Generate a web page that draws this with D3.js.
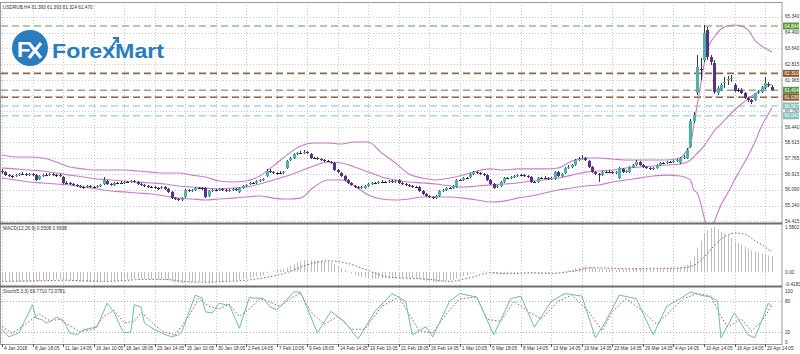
<!DOCTYPE html>
<html>
<head>
<meta charset="utf-8">
<script src="https://cdn.jsdelivr.net/npm/d3@7/dist/d3.min.js"></script>
<style>
  body { margin: 0; background: #fff; }
  svg { display: block; }
  text { font-family: "Liberation Sans", Arial, sans-serif; }
</style>
</head>
<body>
<div id="chart"></div>
<script>
// USDRUB H4 candles, [open, high, low, close]
var ohlc = [
  [57.09,57.20,56.93,57.03],[57.03,57.09,56.82,56.87],[56.87,56.93,56.77,56.82],[56.82,56.87,56.71,56.82],
  [56.82,56.93,56.77,56.87],[56.87,56.98,56.82,56.93],[56.93,57.03,56.87,56.93],[56.93,56.98,56.82,56.87],
  [56.87,56.98,56.82,56.93],[56.93,56.98,56.82,56.87],[56.87,56.93,56.55,56.61],[56.66,56.87,56.61,56.82],
  [56.82,56.93,56.77,56.87],[56.87,56.98,56.82,56.87],[56.87,56.98,56.82,56.93],[56.93,56.98,56.82,56.87],
  [56.87,56.93,56.77,56.87],[56.87,56.93,56.77,56.82],[56.77,56.82,56.39,56.45],[56.45,56.55,56.39,56.45],
  [56.45,56.50,56.34,56.39],[56.39,56.45,56.29,56.34],[56.34,56.39,56.23,56.29],[56.29,56.34,56.18,56.23],
  [56.23,56.29,56.13,56.23],[56.23,56.34,56.18,56.29],[56.29,56.34,56.18,56.23],[56.23,56.29,56.18,56.23],
  [56.23,56.34,56.18,56.29],[56.29,56.39,56.23,56.34],[56.39,56.77,56.34,56.61],[56.55,56.61,56.34,56.39],
  [56.39,56.45,56.29,56.34],[56.34,56.50,56.29,56.45],[56.45,56.50,56.39,56.45],[56.45,56.55,56.39,56.45],
  [56.45,56.55,56.39,56.50],[56.50,56.55,56.45,56.50],[56.50,56.61,56.45,56.55],[56.55,56.61,56.45,56.50],
  [56.50,56.55,56.34,56.39],[56.39,56.45,56.29,56.34],[56.34,56.39,56.23,56.29],[56.29,56.34,56.18,56.23],
  [56.23,56.29,56.18,56.23],[56.23,56.29,56.13,56.18],[56.18,56.23,56.07,56.18],[56.18,56.29,56.13,56.23],
  [56.23,56.29,56.07,56.13],[56.13,56.18,55.91,55.97],[55.97,56.02,55.59,55.64],[55.64,55.70,55.54,55.59],
  [55.59,55.64,55.48,55.54],[55.54,55.70,55.48,55.64],[55.70,56.13,55.64,56.07],[56.07,56.13,55.97,56.02],
  [56.02,56.13,55.97,56.07],[56.07,56.23,56.02,56.18],[56.18,56.23,56.13,56.18],[56.18,56.23,56.07,56.13],
  [56.18,56.23,55.64,55.70],[55.75,56.07,55.70,56.02],[56.02,56.13,55.97,56.07],[56.07,56.13,56.02,56.07],
  [56.07,56.18,56.02,56.13],[56.13,56.18,56.02,56.07],[56.07,56.13,55.97,56.02],[56.02,56.13,55.97,56.07],
  [56.07,56.18,56.02,56.13],[56.13,56.18,56.02,56.07],[55.97,56.23,55.91,56.18],[56.18,56.34,56.13,56.29],
  [56.29,56.39,56.23,56.34],[56.39,56.50,56.34,56.45],[56.45,56.50,56.39,56.45],[56.45,56.61,56.39,56.55],
  [56.55,56.66,56.50,56.61],[56.61,56.71,56.55,56.66],[56.82,57.20,56.77,57.09],[57.09,57.20,56.98,57.03],
  [57.03,57.09,56.93,56.98],[56.98,57.03,56.87,56.98],[56.98,57.09,56.93,56.98],[56.98,57.09,56.93,57.03],
  [57.25,57.68,57.20,57.62],[57.68,57.84,57.62,57.78],[57.78,58.05,57.73,58.00],[58.00,58.10,57.94,58.05],
  [58.05,58.16,58.00,58.05],[58.05,58.21,58.00,58.10],[58.10,58.16,58.00,58.05],[58.00,58.05,57.73,57.78],
  [57.78,57.84,57.73,57.78],[57.78,57.84,57.68,57.73],[57.73,57.78,57.62,57.68],[57.68,57.73,57.57,57.62],
  [57.62,57.68,57.57,57.62],[57.57,57.62,57.46,57.52],[57.52,57.57,57.09,57.14],[57.14,57.20,56.98,57.03],
  [56.98,57.03,56.77,56.82],[56.82,56.87,56.55,56.61],[56.61,56.66,56.39,56.45],[56.45,56.50,56.29,56.34],
  [56.29,56.34,56.18,56.23],[56.23,56.29,56.13,56.18],[56.18,56.29,56.13,56.23],[56.18,56.34,56.13,56.29],
  [56.29,56.45,56.23,56.39],[56.39,56.50,56.34,56.45],[56.45,56.50,56.39,56.45],[56.45,56.55,56.39,56.50],
  [56.50,56.61,56.45,56.50],[56.50,56.55,56.45,56.50],[56.50,56.61,56.45,56.55],[56.55,56.61,56.45,56.50],
  [56.50,56.61,56.45,56.55],[56.61,56.66,56.39,56.45],[56.45,56.50,56.34,56.39],[56.39,56.45,56.29,56.34],
  [56.34,56.39,56.23,56.29],[56.29,56.34,56.18,56.23],[56.23,56.29,56.18,56.23],[56.23,56.29,55.97,56.02],
  [56.02,56.07,55.80,55.86],[55.86,55.91,55.70,55.75],[55.75,55.80,55.64,55.70],[55.70,55.75,55.59,55.64],
  [55.64,55.80,55.59,55.75],[55.75,56.07,55.70,56.02],[56.02,56.13,55.97,56.07],[56.07,56.23,56.02,56.18],
  [56.18,56.23,56.13,56.18],[56.18,56.34,56.13,56.29],[56.23,56.66,56.18,56.61],[56.61,56.66,56.55,56.61],
  [56.61,56.77,56.55,56.71],[56.71,56.77,56.66,56.71],[56.77,56.98,56.71,56.93],[56.93,57.09,56.87,57.03],
  [57.03,57.09,56.93,56.98],[56.98,57.03,56.87,56.93],[56.93,56.98,56.82,56.87],[56.87,56.93,56.55,56.61],
  [56.61,56.66,56.34,56.39],[56.39,56.45,56.13,56.18],[56.23,56.34,56.18,56.29],[56.29,56.55,56.23,56.50],
  [56.50,56.77,56.45,56.71],[56.71,56.77,56.66,56.71],[56.71,56.82,56.66,56.77],[56.77,56.87,56.71,56.82],
  [56.82,56.93,56.77,56.87],[56.87,56.93,56.82,56.87],[56.87,56.93,56.77,56.82],[56.82,56.87,56.71,56.77],
  [56.77,56.82,56.45,56.50],[56.50,56.55,56.45,56.50],[56.50,56.77,56.45,56.71],[56.71,56.77,56.66,56.71],
  [56.71,56.82,56.66,56.71],[56.71,56.77,56.61,56.66],[56.66,56.77,56.61,56.71],[56.66,57.09,56.61,57.03],
  [57.03,57.09,56.77,56.82],[56.82,56.98,56.77,56.93],[56.98,57.30,56.93,57.25],[57.25,57.41,57.20,57.30],
  [57.30,57.46,57.25,57.41],[57.41,57.73,57.36,57.68],[57.68,57.84,57.62,57.73],[57.73,57.94,57.68,57.78],
  [57.78,57.84,57.62,57.68],[57.62,57.68,57.25,57.30],[57.30,57.36,56.98,57.03],[57.03,57.09,56.87,56.93],
  [56.93,56.98,56.50,56.87],[56.87,57.09,56.82,57.03],[57.03,57.09,56.98,57.03],[57.03,57.14,56.98,57.03],
  [57.03,57.09,56.93,56.98],[56.98,57.09,56.93,57.03],[56.71,57.30,56.66,57.25],[57.20,57.25,56.98,57.03],
  [57.03,57.14,56.98,57.09],[57.03,57.36,56.98,57.30],[57.30,57.46,57.25,57.41],[57.41,57.68,57.36,57.57],
  [57.57,57.62,57.36,57.41],[57.41,57.46,57.25,57.30],[57.30,57.36,57.20,57.25],[57.25,57.30,57.14,57.20],
  [57.20,57.30,57.14,57.25],[57.25,57.46,57.20,57.41],[57.41,57.57,57.36,57.52],[57.52,57.57,57.46,57.52],
  [57.52,57.62,57.46,57.57],[57.57,57.62,57.52,57.57],[57.57,57.68,57.52,57.62],[57.62,57.73,57.57,57.68],
  [57.52,57.84,57.46,57.78],[57.78,57.94,57.73,57.84],[57.78,58.32,57.73,58.21],[58.38,59.87,58.32,59.76],
  [59.76,60.24,59.66,60.08],[61.26,63.29,61.15,62.65],[62.54,63.13,61.95,62.54],[63.02,64.90,62.92,64.47],
  [64.63,64.79,63.02,63.18],[63.18,63.29,62.76,62.92],[62.86,63.02,61.21,61.31],[61.26,61.63,61.15,61.53],
  [61.42,61.79,61.37,61.69],[61.79,62.12,61.53,61.85],[61.95,62.17,61.69,62.01],[62.01,62.22,61.85,62.06],
  [61.69,61.79,61.31,61.37],[61.42,61.53,61.31,61.42],[61.42,61.53,61.21,61.26],[61.26,61.31,60.94,60.99],
  [60.99,61.05,60.78,60.89],[60.89,60.94,60.67,60.78],[60.89,61.26,60.83,61.26],[61.26,61.42,61.21,61.31],
  [61.31,61.63,61.26,61.58],[61.53,62.12,61.47,61.79],[61.74,61.85,61.58,61.69],[61.58,61.69,61.37,61.42]
];

// Bollinger bands read at sample bars
var bandIdx   = [0,4,8,12,16,20,24,28,32,36,40,44,48,52,56,60,64,68,72,76,80,84,88,92,96,100,104,108,112,116,120,124,128,132,136,140,144,148,152,156,160,164,168,172,176,180,184,188,192,196,200,202,203,204,205,206,207,208,209,210,212,214,216,218,220,222,224,226,227];
var bandUpper = [57.94,57.84,57.84,57.78,57.57,57.30,57.20,57.14,57.14,57.14,57.09,57.03,56.98,56.98,56.87,56.77,56.55,56.50,56.55,56.82,57.36,57.94,58.42,58.59,58.59,58.53,58.64,58.64,58.05,57.52,56.93,56.71,56.61,56.71,56.87,57.09,57.20,57.14,57.20,57.20,57.20,57.25,57.62,57.78,57.78,57.73,57.68,57.68,57.68,57.68,57.78,58.21,58.48,59.55,60.62,61.69,62.76,63.56,63.99,64.25,64.68,64.84,64.90,64.84,64.63,64.09,63.77,63.56,63.45];
var bandMid   = [57.25,57.20,57.14,57.09,56.98,56.87,56.77,56.66,56.61,56.55,56.50,56.45,56.39,56.29,56.23,56.18,56.13,56.18,56.23,56.39,56.61,56.82,57.09,57.36,57.57,57.52,57.30,57.03,56.77,56.61,56.50,56.45,56.39,56.29,56.23,56.29,56.34,56.39,56.45,56.55,56.61,56.71,56.87,57.03,57.09,57.14,57.25,57.30,57.36,57.41,57.46,57.57,57.68,57.84,58.05,58.21,58.42,58.69,58.96,59.23,59.60,59.98,60.35,60.67,60.94,61.21,61.42,61.63,61.74];
var bandLower = [56.71,56.61,56.50,56.45,56.39,56.34,56.23,56.13,56.02,55.97,55.91,55.86,55.75,55.64,55.59,55.54,55.59,55.64,55.70,55.75,55.64,55.59,55.64,56.23,56.61,56.61,56.29,55.80,55.59,55.54,55.59,55.70,55.70,55.70,55.64,55.54,55.43,55.48,55.64,55.75,55.91,56.07,56.18,56.29,56.34,56.50,56.61,56.71,56.82,56.87,56.82,56.71,56.61,56.07,55.91,55.38,54.63,54.04,53.93,54.36,55.27,55.91,56.61,57.25,57.89,58.64,59.49,60.14,60.46];

// price levels on the right
var levelValues = [64.844, 62.310, 61.404, 61.036, 60.567, 60.042];
var priceTicks = [65.340, 64.490, 63.640, 62.815, 61.965, 61.115, 60.290, 59.440, 58.615, 57.765, 56.915, 56.090, 55.240, 54.415];
var priceTickLabels = ["65.340","64.490","63.640","62.815","61.965","","60.290","59.440","58.615","57.765","56.915","56.090","55.240","54.415"];

// MACD(12,26,9) main per bar
var macdMain = [
  -0.30,-0.31,-0.32,-0.33,-0.33,-0.33,-0.33,-0.32,-0.32,-0.31,
  -0.32,-0.32,-0.31,-0.30,-0.29,-0.28,-0.27,-0.26,-0.28,-0.29,
  -0.30,-0.31,-0.32,-0.33,-0.34,-0.34,-0.34,-0.34,-0.33,-0.33,
  -0.31,-0.31,-0.31,-0.30,-0.29,-0.28,-0.27,-0.26,-0.25,-0.24,
  -0.24,-0.24,-0.25,-0.25,-0.26,-0.26,-0.27,-0.27,-0.27,-0.29,
  -0.33,-0.36,-0.39,-0.40,-0.38,-0.37,-0.36,-0.35,-0.33,-0.32,
  -0.35,-0.35,-0.34,-0.34,-0.33,-0.32,-0.31,-0.30,-0.29,-0.28,
  -0.26,-0.24,-0.22,-0.20,-0.18,-0.16,-0.14,-0.12,-0.05,0.01,
  0.04,0.07,0.09,0.10,0.16,0.22,0.29,0.34,0.38,0.41,
  0.43,0.42,0.41,0.40,0.39,0.37,0.36,0.34,0.28,0.22,
  0.15,0.08,0.01,-0.05,-0.10,-0.15,-0.18,-0.20,-0.22,-0.23,
  -0.23,-0.23,-0.23,-0.22,-0.22,-0.21,-0.21,-0.21,-0.21,-0.21,
  -0.22,-0.22,-0.22,-0.25,-0.28,-0.31,-0.34,-0.36,-0.37,-0.35,
  -0.33,-0.31,-0.29,-0.27,-0.22,-0.18,-0.14,-0.11,-0.07,-0.03,
  -0.01,0.01,0.02,0.01,-0.02,-0.06,-0.08,-0.08,-0.07,-0.06,
  -0.05,-0.04,-0.03,-0.02,-0.02,-0.02,-0.04,-0.05,-0.05,-0.05,
  -0.05,-0.05,-0.05,-0.02,-0.02,-0.01,0.03,0.06,0.09,0.13,
  0.16,0.19,0.20,0.19,0.16,0.14,0.12,0.11,0.10,0.10,
  0.09,0.08,0.10,0.10,0.10,0.12,0.13,0.15,0.15,0.14,
  0.13,0.12,0.11,0.11,0.12,0.13,0.13,0.14,0.15,0.16,
  0.18,0.20,0.25,0.40,0.55,0.85,1.10,1.35,1.48,1.55,
  1.58,1.50,1.42,1.35,1.28,1.20,1.10,1.02,0.95,0.88,
  0.82,0.76,0.72,0.68,0.65,0.62,0.58,0.55
];
var macdSigIdx = [0,6,12,18,24,30,36,42,48,54,60,66,72,78,84,90,96,102,108,114,120,126,132,138,144,150,156,162,168,174,180,186,192,198,202,205,208,211,214,216,219,222,225,227];
var macdSignal = [-0.33,-0.32,-0.31,-0.29,-0.31,-0.33,-0.30,-0.26,-0.26,-0.34,-0.36,-0.33,-0.29,-0.19,-0.02,0.25,0.39,0.30,0.05,-0.18,-0.22,-0.26,-0.33,-0.20,-0.03,-0.06,-0.03,-0.05,0.02,0.15,0.13,0.11,0.13,0.13,0.17,0.30,0.65,1.05,1.30,1.37,1.33,1.10,0.88,0.70];
var macdTicks = [1.5802, 0, -0.4183];
var macdTickLabels = ["1.5802", "0.00", "-0.4183"];

// Stochastic(5,3,3)
var stochIdx  = [0,2,5,9,10,12,13,15,16,18,20,22,24,26,28,31,33,35,36,38,39,41,42,45,47,50,52,53,57,59,60,62,64,66,67,70,73,74,77,79,81,83,86,88,93,97,101,105,110,115,119,121,125,127,132,135,140,145,150,153,157,162,166,171,175,178,182,187,192,196,200,203,206,209,211,212,216,220,222,226,227];
var stochMain = [24,10,18,73,47,43,37,43,49,43,18,14,24,27,29,76,59,29,18,20,73,69,37,24,18,10,14,20,92,86,59,57,76,73,73,27,88,86,86,69,63,76,98,98,18,60,40,6,60,95,80,14,30,10,80,95,88,14,85,90,29,80,95,90,8,40,92,85,14,70,85,98,92,88,80,8,57,14,8,76,70];
var stochSigIdx = [0,3,7,11,14,17,20,23,27,30,33,36,39,41,44,47,51,55,58,61,64,67,70,73,76,79,82,85,88,91,95,99,103,107,112,117,120,123,127,131,135,140,143,147,151,155,159,164,168,173,177,180,184,189,193,197,201,205,209,212,214,218,221,224,227];
var stochSignal = [30,17,35,55,42,44,32,20,25,50,62,38,40,58,40,22,13,50,85,70,65,74,50,65,85,78,70,85,96,60,35,50,25,25,70,88,55,22,18,55,85,88,45,40,80,60,45,80,92,60,22,60,85,60,35,60,85,95,90,50,30,45,22,40,72];
var stochTicks = [100, 80, 20, 0];

// time axis labels, one every 9 bars
var timeLabels = ["4 Jan 2018","8 Jan 18:05","11 Jan 14:05","16 Jan 10:05","18 Jan 18:05","23 Jan 14:05","26 Jan 10:05",
  "30 Jan 18:05","2 Feb 14:05","7 Feb 10:05","9 Feb 18:05","14 Feb 14:05","19 Feb 10:05","21 Feb 18:05","26 Feb 14:05",
  "1 Mar 10:05","5 Mar 18:05","8 Mar 14:05","13 Mar 14:05","19 Mar 14:05","23 Mar 14:05","29 Mar 14:05","4 Apr 14:05",
  "10 Apr 14:05","16 Apr 14:05","20 Apr 14:05"];

// layout
var svgWidth = 800, svgHeight = 354;
var plotRight = 782;
var mainTop = 2, mainBottom = 223;
var macdTop = 224, macdBottom = 286;
var stochTop = 287, stochBottom = 344;

var svg = d3.select("#chart").append("svg")
  .attr("width", svgWidth)
  .attr("height", svgHeight);

var x = d3.scaleLinear().domain([0, 230]).range([2, 782]);
var yPrice = d3.scaleLinear().domain([54.415, 65.340]).range([221, 16.7]);
var yMacd = d3.scaleLinear().domain([-0.4183, 1.5802]).range([283.9, 227]);
var yStoch = d3.scaleLinear().domain([0, 100]).range([342, 291]);

var gridColor = "#c6c6c6";
var small = "4.7px";

// clip paths
var defs = svg.append("defs");
[["clipMain", mainTop, mainBottom], ["clipMacd", macdTop, macdBottom], ["clipStoch", stochTop, stochBottom]].forEach(function(c) {
  defs.append("clipPath").attr("id", c[0])
    .append("rect").attr("x", 1).attr("y", c[1]).attr("width", plotRight - 1).attr("height", c[2] - c[1]);
});

// vertical grid
svg.append("g").selectAll("line")
  .data(timeLabels)
  .enter().append("line")
  .attr("x1", (d, i) => Math.round(x(i * 9)) + 0.5)
  .attr("x2", (d, i) => Math.round(x(i * 9)) + 0.5)
  .attr("y1", mainTop).attr("y2", stochBottom)
  .attr("stroke", gridColor).attr("stroke-dasharray", "1,2");

// horizontal grid in main panel
svg.append("g").selectAll("line")
  .data(priceTicks)
  .enter().append("line")
  .attr("x1", 1).attr("x2", plotRight)
  .attr("y1", d => Math.round(yPrice(d)) + 0.5)
  .attr("y2", d => Math.round(yPrice(d)) + 0.5)
  .attr("stroke", gridColor).attr("stroke-dasharray", "1,2");

// stoch levels 80/20
svg.append("g").selectAll("line")
  .data([80, 20])
  .enter().append("line")
  .attr("x1", 1).attr("x2", plotRight)
  .attr("y1", d => Math.round(yStoch(d)) + 0.5)
  .attr("y2", d => Math.round(yStoch(d)) + 0.5)
  .attr("stroke", "#b0b0b0").attr("stroke-dasharray", "1,2");

// logo
var logo = svg.append("g");
logo.append("circle").attr("cx", 30).attr("cy", 48).attr("r", 18).attr("fill", "#2b7cbf");
logo.append("text").attr("x", 17).attr("y", 57).attr("fill", "#fff")
  .style("font-size", "22px").style("font-weight", "bold").text("F");
logo.append("path").attr("d", "M29,43 L41,58 M41,43 L29,58").attr("stroke", "#fff").attr("stroke-width", 3.2).attr("fill", "none");
logo.append("text").attr("x", 52).attr("y", 58).attr("fill", "#2b7cbf")
  .attr("textLength", 112).attr("lengthAdjust", "spacingAndGlyphs")
  .style("font-size", "21px").style("font-weight", "bold").text("ForexMart");
logo.append("path").attr("d", "M108,52 L118,38 M113,38 L118,38 L118,43")
  .attr("stroke", "#2b7cbf").attr("stroke-width", 2).attr("fill", "none");

// level lines
var levelStroke = ["#8fbf8f", "#8a6a48", "#93a593", "#8a6a48", "#a9d6cd", "#a9d6cd"];
var levelFill = ["#5e9a3a", "#8a5a2c", "#5a9346", "#8a5a2c", "#86c3b8", "#86c3b8"];
svg.append("g").selectAll("line")
  .data(levelValues)
  .enter().append("line")
  .attr("x1", 1).attr("x2", plotRight)
  .attr("y1", d => yPrice(d)).attr("y2", d => yPrice(d))
  .attr("stroke", (d, i) => levelStroke[i])
  .attr("stroke-width", 1.6)
  .attr("stroke-dasharray", "7,4");

// Bollinger bands
var mainG = svg.append("g").attr("clip-path", "url(#clipMain)");
[bandUpper, bandMid, bandLower].forEach(function(arr) {
  mainG.append("path")
    .datum(bandIdx.map((b, i) => [b, arr[i]]))
    .attr("d", d3.line().x(d => x(d[0])).y(d => yPrice(d[1])).curve(d3.curveMonotoneX))
    .attr("fill", "none").attr("stroke", "#c77bcc").attr("stroke-width", 1.1);
});

// candles
var bull = "#4fb2a8", bear = "#5a2f86";
var candle = mainG.selectAll("g.candle")
  .data(ohlc)
  .enter().append("g").attr("class", "candle");
candle.append("line")
  .attr("x1", (d, i) => Math.round(x(i)) + 0.5)
  .attr("x2", (d, i) => Math.round(x(i)) + 0.5)
  .attr("y1", d => yPrice(d[1])).attr("y2", d => yPrice(d[2]))
  .attr("stroke", "#3a3a3a").attr("stroke-width", 1);
candle.append("rect")
  .attr("x", (d, i) => Math.round(x(i)) - 1)
  .attr("width", 3)
  .attr("y", d => Math.min(yPrice(d[0]), yPrice(d[3])))
  .attr("height", d => Math.max(1, Math.abs(yPrice(d[0]) - yPrice(d[3]))))
  .attr("fill", d => Math.abs(d[0] - d[3]) < 0.03 ? "#222" : (d[3] > d[0] ? bull : bear));

// MACD histogram and signal
var macdG = svg.append("g").attr("clip-path", "url(#clipMacd)");
macdG.selectAll("line.hist")
  .data(macdMain)
  .enter().append("line").attr("class", "hist")
  .attr("x1", (d, i) => Math.round(x(i)) + 0.5)
  .attr("x2", (d, i) => Math.round(x(i)) + 0.5)
  .attr("y1", yMacd(0)).attr("y2", d => yMacd(d))
  .attr("stroke", "#bdbdbd").attr("stroke-width", 1);
macdG.append("path")
  .datum(macdSigIdx.map((b, i) => [b, macdSignal[i]]))
  .attr("d", d3.line().x(d => x(d[0])).y(d => yMacd(d[1])).curve(d3.curveMonotoneX))
  .attr("fill", "none").attr("stroke", "#b5524f").attr("stroke-width", 1).attr("stroke-dasharray", "1.5,2");

// Stochastic
var stochG = svg.append("g").attr("clip-path", "url(#clipStoch)");
stochG.append("path")
  .datum(stochSigIdx.map((b, i) => [b, stochSignal[i]]))
  .attr("d", d3.line().x(d => x(d[0])).y(d => yStoch(d[1])))
  .attr("fill", "none").attr("stroke", "#c0504d").attr("stroke-width", 1).attr("stroke-dasharray", "1.5,2");
stochG.append("path")
  .datum(stochIdx.map((b, i) => [b, stochMain[i]]))
  .attr("d", d3.line().x(d => x(d[0])).y(d => yStoch(d[1])))
  .attr("fill", "none").attr("stroke", "#6cbcb0").attr("stroke-width", 1);

// frames and dividers
svg.append("rect").attr("x", 0.5).attr("y", mainTop + 0.5).attr("width", plotRight - 0.5).attr("height", stochBottom - mainTop)
  .attr("fill", "none").attr("stroke", "#9a9a9a");
[mainBottom, macdBottom].forEach(function(yy) {
  svg.append("line").attr("x1", 0).attr("x2", plotRight).attr("y1", yy + 0.5).attr("y2", yy + 0.5)
    .attr("stroke", "#6e6e6e").attr("stroke-width", 2);
});

// right axis - price
var axisG = svg.append("g").style("font-size", small).attr("fill", "#333");
axisG.selectAll("text.p")
  .data(priceTicks)
  .enter().append("text").attr("class", "p")
  .attr("x", 785).attr("y", d => yPrice(d) + 1.7)
  .text((d, i) => priceTickLabels[i]);

// level label boxes
var lvl = svg.append("g").selectAll("g").data(levelValues).enter().append("g");
lvl.append("rect")
  .attr("x", 783).attr("y", d => yPrice(d) - 3.5)
  .attr("width", 16).attr("height", 7)
  .attr("fill", (d, i) => levelFill[i]);
lvl.append("text")
  .attr("x", 784.5).attr("y", d => yPrice(d) + 1.7)
  .attr("fill", "#fff").style("font-size", small)
  .text(d => d.toFixed(3));

// right axis - macd / stoch
axisG.selectAll("text.m")
  .data(macdTicks)
  .enter().append("text").attr("class", "m")
  .attr("x", 785).attr("y", d => yMacd(d) + 1.7)
  .text((d, i) => macdTickLabels[i]);
axisG.selectAll("text.s")
  .data(stochTicks)
  .enter().append("text").attr("class", "s")
  .attr("x", 785).attr("y", d => yStoch(d) + 1.7)
  .text(d => d);

// time axis
var tG = svg.append("g");
tG.selectAll("line")
  .data(timeLabels)
  .enter().append("line")
  .attr("x1", (d, i) => Math.round(x(i * 9)) + 0.5)
  .attr("x2", (d, i) => Math.round(x(i * 9)) + 0.5)
  .attr("y1", stochBottom).attr("y2", stochBottom + 3)
  .attr("stroke", "#555");
tG.selectAll("text")
  .data(timeLabels)
  .enter().append("text")
  .attr("x", (d, i) => Math.round(x(i * 9)) + 2)
  .attr("y", 350)
  .attr("fill", "#333").style("font-size", small)
  .text(d => d);

// panel captions
var cap = svg.append("g").attr("fill", "#333").style("font-size", small);
cap.append("text").attr("x", 3).attr("y", 9).text("USDRUB,H4 61.393 61.393 61.324 61.470");
cap.append("text").attr("x", 3).attr("y", 230).text("MACD(12,26,9) 0.5508 0.6998");
cap.append("text").attr("x", 3).attr("y", 293).text("Stoch(5,3,3) 69.7710 72.0781");
</script>
</body>
</html>
